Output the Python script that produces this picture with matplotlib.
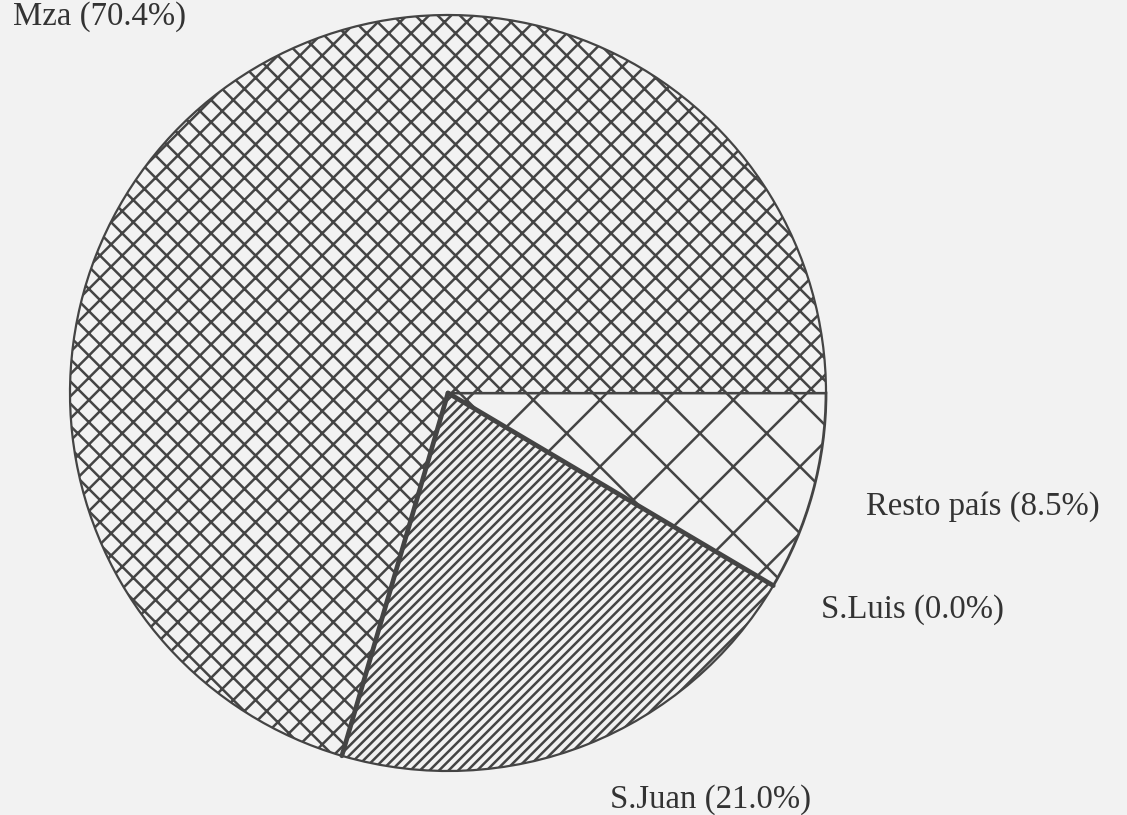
import numpy as np
import matplotlib.pyplot as plt

regiones = ['Resto país', 'S.Luis', 'S.Juan', 'Mza']
porcentajes = [8.5, 0.0, 21.0, 70.4]
tramas = ['x', '', '///////', 'xxx']

plt.rcParams['font.family'] = ['Liberation Serif', 'DejaVu Serif']
plt.rcParams['hatch.linewidth'] = 0.9

fig = plt.figure(figsize=(5.635, 4.075), dpi=200, facecolor='#f2f2f2')
ax = fig.add_axes([0, 0, 1, 1])
ax.set_facecolor('#f2f2f2')

tinta = '#444444'
wedges, _ = ax.pie(porcentajes, startangle=0, counterclock=False,
                   center=(448, 815 - 393), radius=378,
                   colors=['#f2f2f2'] * 4,
                   wedgeprops=dict(edgecolor=tinta, linewidth=0.8))
for w, h in zip(wedges, tramas):
    w.set_hatch(h)
wedges[0].set_linewidth(1.0)

# bordes radiales gruesos de S.Juan
sj = wedges[2]
cx, cy = sj.center
for th in (sj.theta1, sj.theta2):
    a = np.deg2rad(th)
    ax.plot([cx, cx + sj.r * np.cos(a)], [cy, cy + sj.r * np.sin(a)],
            color=tinta, lw=1.7, solid_capstyle='round', zorder=5)

ax.set_xlim(0, 1127)
ax.set_ylim(0, 815)
ax.set_aspect('auto')
ax.axis('off')

etiquetas = [f'{r} ({p:.1f}%)' for r, p in zip(regiones, porcentajes)]
pos = [(866, 815 - 507), (821, 815 - 610), (610, 815 - 800), (13, 815 - 17)]
for t, (x, y) in zip(etiquetas, pos):
    ax.text(x, y, t, fontsize=11.8, color='#333333', ha='left', va='center')

plt.savefig('out.png', dpi=200, facecolor='#f2f2f2')
